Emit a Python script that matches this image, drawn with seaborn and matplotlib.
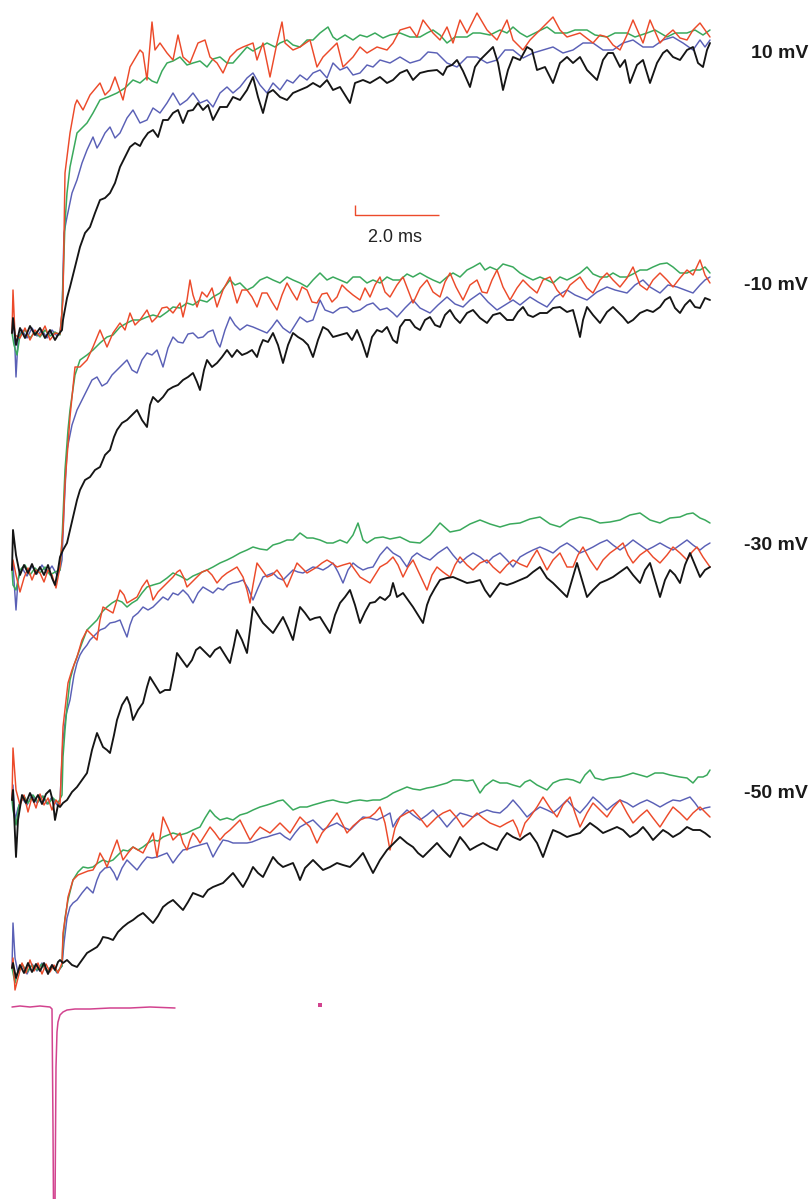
import matplotlib
matplotlib.use("Agg")
import matplotlib.pyplot as plt
import pandas as pd
import seaborn as sns

# Sampling: 42 samples per ms. Each sweep is a list of (sample, current) pairs,
# current in arbitrary units relative to the pre-step holding level.
SAMPLES_PER_MS = 42.0

POTENTIALS = ["10 mV", "-10 mV", "-30 mV", "-50 mV"]

# ---------------- 10 mV ----------------
red_10 = [(12,0),(13,43),(15,-2),(20,-5),(25,5),(30,-7),(35,3),(40,-3),(45,7),(50,-7),(55,0),(60,-1),(63,33),(65,160),(70,200),(75,228),(77,233),(83,223),(90,238),(100,250),(105,238),(110,243),(115,256),(123,233),(130,266),(140,283),(143,280),(147,253),(152,311),(155,283),(160,290),(167,280),(173,273),(178,298),(183,276),(190,270),(198,290),(205,293),(210,276),(217,270),(223,260),(230,276),(237,283),(243,286),(253,290),(257,273),(263,290),(270,256),(277,290),(282,311),(285,290),(293,283),(300,286),(310,293),(317,266),(323,276),(330,283),(337,290),(343,266),(353,276),(360,286),(367,280),(377,286),(387,283),(393,290),(400,303),(410,306),(417,296),(423,313),(433,300),(440,293),(447,306),(453,290),(460,313),(467,300),(477,320),(487,303),(497,293),(507,313),(513,293),(523,283),(530,293),(537,300),(545,308),(553,316),(560,303),(567,296),(580,300),(593,290),(600,298),(607,296),(613,288),(620,283),(627,298),(633,313),(643,290),(650,313),(660,290),(667,298),(673,303),(680,295),(687,293),(693,303),(700,310),(705,303),(710,296)]
green_10 = [(12,0),(14,-12),(17,-22),(20,-2),(25,3),(30,-5),(35,1),(40,-4),(45,3),(50,-3),(55,1),(60,-2),(62,20),(65,110),(67,140),(70,166),(77,200),(82,205),(87,210),(93,220),(100,233),(108,236),(117,240),(125,245),(133,253),(140,250),(147,256),(152,252),(157,250),(162,262),(167,270),(173,272),(180,276),(187,268),(193,270),(200,272),(207,266),(213,274),(220,276),(227,270),(233,270),(240,278),(247,286),(253,282),(260,286),(267,290),(275,286),(280,290),(287,293),(293,288),(300,286),(307,293),(313,293),(320,300),(328,306),(333,296),(337,293),(345,298),(353,293),(360,298),(367,296),(375,300),(383,295),(390,298),(400,300),(410,296),(420,296),(427,300),(433,303),(440,298),(447,290),(455,296),(467,296),(473,300),(480,300),(490,298),(500,303),(507,300),(513,306),(520,300),(527,296),(535,300),(547,306),(555,300),(567,300),(575,303),(587,303),(595,298),(607,296),(615,300),(627,300),(635,296),(647,300),(655,303),(667,296),(675,300),(687,300),(695,303),(703,298),(710,303)]
blue_10 = [(12,0),(14,11),(16,-44),(18,-7),(22,3),(27,-5),(32,5),(37,-3),(42,3),(47,-5),(52,3),(57,-3),(60,0),(62,20),(64,100),(67,116),(72,140),(77,153),(82,170),(87,183),(93,196),(97,185),(100,190),(105,200),(110,206),(115,195),(120,200),(127,215),(133,223),(140,210),(147,213),(153,225),(160,220),(167,230),(173,240),(180,228),(187,233),(193,240),(200,230),(207,233),(213,226),(220,240),(227,246),(233,240),(240,246),(247,255),(253,260),(260,248),(267,240),(273,250),(280,243),(287,253),(293,250),(300,258),(307,253),(313,260),(320,263),(327,255),(333,270),(340,263),(347,266),(353,258),(360,260),(367,268),(373,266),(380,273),(390,270),(400,276),(410,270),(420,273),(428,281),(437,280),(447,270),(457,266),(467,276),(477,276),(487,270),(497,273),(505,283),(513,283),(523,275),(533,280),(543,283),(553,286),(563,280),(573,283),(583,290),(593,290),(603,283),(613,283),(623,290),(633,293),(643,286),(653,286),(663,293),(673,296),(683,290),(693,283),(700,293),(705,286),(710,293)]
black_10 = [(12,0),(13,15),(16,-12),(20,5),(25,-5),(30,7),(35,-2),(40,5),(45,-5),(50,3),(55,-7),(58,-2),(62,3),(63,13),(67,35),(70,46),(75,66),(80,86),(85,100),(90,106),(95,120),(100,133),(105,135),(110,140),(115,150),(120,166),(125,176),(130,186),(135,190),(140,187),(143,193),(148,200),(153,203),(158,196),(163,213),(168,213),(173,220),(178,223),(183,210),(188,222),(193,223),(198,230),(203,223),(208,228),(213,213),(220,226),(227,226),(233,236),(240,233),(247,243),(253,256),(258,236),(263,220),(268,240),(273,243),(280,236),(287,233),(293,240),(300,243),(307,246),(313,250),(320,246),(327,253),(333,243),(340,246),(345,238),(350,230),(355,250),(363,253),(370,250),(380,256),(387,250),(393,253),(400,260),(407,263),(413,253),(420,260),(428,262),(437,263),(443,258),(447,266),(452,268),(457,273),(463,262),(470,246),(475,266),(480,273),(487,280),(493,286),(498,270),(503,243),(508,263),(513,276),(520,273),(527,286),(532,283),(537,263),(545,266),(553,250),(560,270),(567,276),(573,270),(580,276),(587,263),(597,253),(603,273),(608,280),(613,280),(620,266),(625,273),(630,250),(637,268),(643,273),(650,250),(657,270),(663,280),(667,283),(673,276),(680,273),(687,283),(693,286),(698,270),(703,266),(707,283),(710,290)]

# ---------------- -10 mV ----------------
red_m10 = [(12,0),(13,10),(16,-5),(20,-22),(24,-8),(28,2),(32,-10),(36,0),(40,-3),(44,-12),(48,0),(52,-5),(56,-18),(60,3),(63,40),(65,87),(68,125),(70,153),(75,203),(80,203),(87,210),(93,223),(100,240),(107,223),(113,237),(120,247),(125,240),(130,257),(135,245),(140,250),(147,260),(152,248),(157,253),(162,262),(167,263),(173,257),(180,267),(183,253),(187,270),(190,290),(193,275),(197,263),(202,278),(207,273),(212,282),(217,263),(223,280),(230,293),(237,267),(242,280),(247,280),(252,273),(257,263),(262,277),(267,277),(272,268),(277,260),(282,275),(287,287),(292,278),(297,270),(302,283),(307,280),(312,268),(317,267),(322,276),(327,277),(332,268),(337,273),(342,285),(347,280),(353,275),(360,270),(365,282),(370,273),(375,285),(380,293),(385,278),(390,273),(397,285),(403,293),(408,280),(413,267),(420,282),(427,290),(433,278),(440,273),(445,288),(450,297),(456,283),(463,270),(470,285),(477,290),(482,278),(487,277),(492,290),(497,300),(503,283),(510,270),(517,282),(523,290),(530,283),(537,277),(543,290),(550,293),(557,280),(563,273),(570,285),(580,293),(587,282),(593,277),(600,290),(607,297),(613,290),(620,283),(627,292),(633,303),(640,285),(647,280),(653,290),(660,297),(667,290),(673,283),(680,292),(687,300),(693,295),(700,310),(705,295),(710,287)]
green_m10 = [(12,0),(13,-15),(16,-20),(20,0),(25,5),(30,-5),(35,2),(40,-3),(45,3),(50,-5),(55,-2),(60,0),(62,30),(65,100),(68,140),(70,160),(75,195),(80,210),(87,215),(93,220),(100,227),(107,233),(113,235),(120,243),(127,247),(133,250),(140,250),(147,253),(153,255),(160,253),(167,258),(173,263),(180,262),(187,267),(193,265),(200,270),(207,268),(213,273),(220,277),(230,290),(235,285),(240,287),(247,280),(253,283),(260,290),(267,293),(273,290),(280,287),(287,293),(293,290),(300,287),(307,283),(313,290),(320,297),(327,290),(333,293),(340,290),(347,287),(353,293),(360,293),(367,287),(373,290),(380,287),(387,293),(393,290),(400,290),(407,296),(413,293),(420,297),(427,293),(433,290),(440,287),(447,293),(453,297),(460,293),(467,300),(473,303),(480,307),(485,300),(490,303),(497,300),(503,306),(513,303),(520,297),(527,293),(533,290),(540,293),(547,290),(553,287),(560,293),(567,290),(573,293),(580,297),(587,303),(593,296),(600,293),(607,293),(613,297),(620,293),(627,293),(633,296),(640,300),(647,300),(653,303),(660,306),(667,307),(673,303),(680,297),(687,297),(693,300),(700,300),(705,303),(710,297)]
blue_m10 = [(12,0),(13,5),(16,-40),(18,-10),(22,2),(27,-6),(32,4),(37,-4),(42,5),(47,-3),(52,4),(57,-5),(60,0),(62,10),(64,60),(67,120),(72,145),(77,160),(82,170),(87,180),(92,190),(97,193),(102,184),(107,187),(112,195),(117,200),(122,205),(127,210),(132,200),(137,197),(142,210),(147,217),(152,215),(157,220),(163,203),(168,222),(173,233),(178,228),(183,227),(188,236),(193,237),(198,232),(203,233),(208,238),(213,240),(217,228),(220,223),(225,240),(230,253),(235,245),(240,240),(247,245),(253,243),(260,240),(267,237),(272,243),(277,250),(283,242),(290,237),(295,245),(300,253),(307,248),(313,250),(320,270),(325,260),(333,257),(340,262),(347,263),(353,258),(360,260),(367,265),(373,267),(380,260),(387,262),(393,257),(397,253),(405,262),(413,270),(420,262),(430,257),(438,265),(447,273),(455,266),(463,263),(470,270),(480,277),(488,268),(497,260),(505,265),(513,270),(520,265),(530,273),(538,268),(547,263),(555,273),(567,280),(575,275),(587,270),(597,278),(607,283),(615,280),(627,277),(635,285),(643,290),(650,283),(660,277),(668,285),(677,283),(685,280),(693,277),(700,285),(705,290),(710,293)]
black_m10 = [(12,0),(13,40),(16,15),(20,-5),(24,5),(28,-3),(32,6),(36,-4),(40,3),(44,-5),(48,5),(52,-8),(55,-15),(58,0),(60,13),(63,20),(67,27),(70,40),(73,53),(77,70),(80,80),(85,90),(90,93),(95,100),(100,103),(105,115),(110,120),(114,133),(117,140),(122,147),(127,150),(132,155),(137,160),(142,150),(147,143),(150,165),(153,173),(158,168),(163,173),(168,180),(173,183),(178,185),(183,190),(188,193),(193,197),(197,188),(200,180),(204,200),(207,210),(212,203),(217,207),(222,213),(227,220),(232,213),(237,220),(242,215),(247,217),(252,220),(257,213),(260,223),(263,230),(268,228),(273,237),(278,225),(283,207),(288,225),(293,237),(298,233),(303,230),(308,225),(313,213),(318,230),(323,243),(328,240),(333,233),(340,235),(347,237),(352,230),(357,240),(362,228),(367,213),(372,233),(377,240),(382,238),(387,243),(393,230),(397,227),(400,243),(405,250),(410,250),(415,243),(420,240),(425,250),(430,253),(435,245),(440,243),(445,255),(450,260),(455,252),(460,247),(467,257),(473,260),(480,252),(487,247),(493,255),(500,257),(507,250),(513,250),(518,258),(523,263),(528,255),(533,253),(540,257),(547,257),(553,262),(560,263),(567,258),(573,260),(577,245),(580,233),(583,250),(587,263),(593,255),(600,247),(607,258),(613,263),(618,258),(623,253),(628,247),(633,250),(640,257),(647,260),(653,258),(660,263),(665,270),(670,273),(675,262),(680,257),(685,265),(690,270),(695,263),(700,262),(705,272),(710,270)]

# ---------------- -30 mV ----------------
red_m30 = [(12,0),(13,52),(16,10),(20,-5),(24,5),(28,-12),(32,3),(36,-8),(40,6),(44,-5),(48,2),(52,-10),(56,0),(60,-5),(63,73),(66,100),(68,117),(72,130),(77,143),(82,160),(87,170),(92,165),(97,160),(100,180),(103,193),(108,190),(113,187),(117,200),(120,210),(124,205),(127,197),(132,200),(137,203),(142,213),(147,220),(150,212),(153,200),(158,208),(163,213),(168,218),(173,223),(177,228),(180,230),(184,222),(187,213),(192,218),(197,223),(202,228),(207,230),(212,225),(217,217),(222,223),(227,227),(232,230),(237,233),(240,228),(243,223),(247,210),(250,197),(253,215),(257,237),(262,230),(267,223),(272,225),(277,230),(282,223),(287,213),(292,225),(297,237),(302,232),(307,227),(312,230),(317,233),(322,237),(327,240),(332,237),(337,233),(343,235),(350,237),(355,230),(360,223),(365,220),(370,217),(375,225),(380,233),(387,237),(393,243),(398,235),(403,223),(408,233),(413,240),(420,225),(427,210),(432,225),(437,233),(443,228),(450,223),(455,235),(460,243),(467,235),(473,230),(480,237),(487,240),(493,233),(500,227),(507,235),(513,240),(520,236),(527,233),(532,242),(537,250),(542,240),(547,230),(553,240),(560,247),(567,233),(573,233),(578,245),(583,253),(590,240),(597,230),(603,240),(610,247),(617,252),(623,257),(628,245),(633,237),(640,245),(647,250),(653,243),(660,237),(667,245),(673,253),(680,247),(687,240),(692,248),(697,253),(703,243),(710,233)]
green_m30 = [(12,0),(13,-10),(16,-25),(19,-5),(24,4),(28,-3),(33,5),(38,-2),(43,4),(48,-4),(53,2),(58,-3),(62,5),(63,43),(65,70),(67,93),(70,120),(74,135),(77,143),(82,157),(87,170),(92,175),(97,180),(102,188),(107,193),(112,197),(117,200),(122,198),(127,193),(132,197),(137,200),(142,207),(147,213),(153,215),(160,217),(167,222),(173,227),(180,224),(187,220),(193,224),(200,227),(207,230),(213,233),(220,237),(227,240),(233,243),(240,247),(247,250),(253,253),(260,251),(267,250),(273,255),(280,257),(287,260),(293,260),(300,267),(307,262),(313,262),(320,260),(327,257),(333,257),(340,260),(347,257),(353,265),(358,277),(363,260),(367,257),(375,262),(383,263),(390,261),(400,263),(410,258),(420,257),(430,265),(440,277),(450,268),(460,270),(470,276),(480,280),(490,276),(500,273),(510,276),(520,277),(530,281),(540,283),(550,276),(560,273),(570,280),(580,283),(590,281),(600,277),(610,278),(620,280),(630,285),(640,287),(650,280),(660,277),(670,282),(680,283),(687,286),(693,287),(700,282),(705,280),(710,277)]
blue_m30 = [(12,0),(13,15),(15,-20),(18,-8),(22,2),(27,-5),(32,5),(37,-3),(42,4),(47,-4),(52,3),(57,-5),(60,0),(63,60),(66,85),(70,100),(74,125),(77,137),(80,145),(83,150),(87,155),(90,160),(95,165),(100,170),(105,172),(110,177),(115,178),(120,180),(124,170),(127,163),(130,175),(133,183),(138,187),(143,193),(148,190),(153,193),(158,198),(163,203),(168,200),(173,207),(178,205),(183,210),(188,205),(193,197),(198,207),(203,213),(208,210),(213,207),(218,212),(223,210),(228,215),(233,217),(238,218),(243,220),(248,212),(253,200),(258,212),(263,223),(268,225),(273,227),(278,222),(283,220),(288,225),(293,230),(298,228),(303,227),(308,230),(313,233),(318,232),(323,230),(328,233),(333,237),(338,228),(343,217),(348,230),(353,237),(358,233),(363,230),(368,232),(373,233),(380,245),(387,253),(393,247),(400,243),(407,233),(412,243),(417,247),(423,243),(430,240),(438,247),(447,253),(453,245),(460,237),(467,243),(473,247),(480,243),(487,237),(493,243),(500,247),(507,240),(513,233),(520,243),(527,247),(533,250),(540,253),(547,250),(553,247),(560,253),(567,257),(573,253),(580,247),(587,250),(593,253),(600,257),(607,260),(613,255),(620,250),(627,255),(633,260),(640,255),(647,250),(653,253),(660,257),(667,253),(673,250),(680,255),(687,260),(693,255),(700,250),(705,254),(710,257)]
black_m30 = [(12,0),(13,10),(16,-57),(18,-20),(22,5),(26,-3),(30,7),(34,-2),(38,5),(42,-4),(46,6),(50,10),(53,-2),(55,-20),(58,-5),(60,-7),(63,-3),(67,0),(72,8),(77,13),(82,20),(87,27),(92,50),(97,67),(100,60),(103,53),(107,50),(110,47),(114,65),(117,80),(122,95),(127,103),(130,95),(133,80),(138,90),(143,97),(147,113),(150,123),(155,115),(160,107),(165,110),(170,110),(174,130),(177,147),(182,140),(187,133),(192,140),(196,150),(200,153),(205,148),(210,143),(215,150),(220,153),(225,145),(230,137),(234,155),(237,170),(242,160),(247,147),(250,170),(253,193),(258,185),(263,177),(268,172),(273,167),(278,175),(283,183),(288,172),(293,160),(297,180),(300,193),(305,187),(310,180),(315,182),(320,183),(325,175),(330,167),(335,185),(340,197),(345,203),(350,210),(355,195),(360,177),(365,188),(370,197),(375,198),(380,203),(385,200),(390,205),(393,217),(397,203),(403,207),(408,200),(413,193),(418,185),(423,177),(427,195),(430,203),(435,212),(440,220),(447,222),(453,223),(460,220),(467,217),(473,218),(480,220),(485,210),(490,203),(495,210),(500,217),(507,215),(513,217),(520,220),(527,223),(533,228),(540,233),(547,222),(553,217),(560,210),(567,203),(572,220),(577,237),(582,220),(587,203),(593,210),(600,217),(607,220),(613,223),(620,228),(627,233),(633,225),(640,217),(645,230),(650,237),(655,220),(660,203),(665,220),(670,230),(675,225),(680,217),(685,235),(690,247),(695,235),(700,223),(705,230),(710,233)]

# ---------------- -50 mV ----------------
red_m50 = [(12,0),(13,10),(15,-22),(18,-10),(22,5),(26,-5),(30,8),(34,-3),(38,5),(42,-6),(46,4),(50,-4),(54,3),(58,-5),(62,5),(63,35),(66,55),(68,71),(73,88),(78,93),(83,95),(88,97),(93,98),(97,105),(100,115),(104,108),(107,101),(112,115),(117,128),(120,118),(123,108),(128,115),(133,121),(138,118),(143,115),(148,125),(153,135),(157,111),(160,130),(163,151),(168,140),(173,128),(177,132),(180,135),(183,125),(187,118),(190,128),(193,135),(197,130),(200,125),(205,133),(210,141),(215,135),(220,128),(225,134),(230,138),(235,143),(240,148),(245,138),(250,128),(255,135),(260,141),(265,138),(270,135),(275,140),(280,145),(285,140),(290,135),(295,143),(300,151),(305,146),(310,141),(317,125),(322,135),(327,141),(332,148),(337,155),(342,145),(347,135),(353,142),(360,148),(365,150),(370,151),(375,155),(380,161),(385,145),(390,118),(395,140),(400,151),(407,155),(413,158),(420,150),(427,141),(432,146),(437,151),(443,155),(450,158),(457,150),(463,141),(470,148),(477,155),(483,150),(490,145),(495,143),(500,141),(507,145),(513,148),(517,140),(520,131),(525,145),(530,151),(537,161),(543,171),(550,160),(557,151),(563,163),(570,171),(575,155),(580,141),(587,155),(593,165),(600,158),(607,151),(613,160),(620,168),(627,155),(633,145),(640,152),(647,158),(653,150),(660,141),(667,152),(673,161),(680,155),(687,148),(693,155),(700,161),(705,156),(710,151)]
green_m50 = [(12,0),(13,-5),(15,-15),(18,-3),(22,4),(27,-4),(32,3),(37,-2),(42,4),(47,-3),(52,2),(57,-4),(62,2),(63,28),(65,50),(68,68),(73,88),(78,96),(83,101),(88,100),(93,101),(98,105),(103,108),(108,106),(113,108),(118,113),(123,118),(128,117),(133,121),(138,118),(143,121),(148,125),(153,128),(158,127),(163,131),(168,133),(173,135),(180,133),(187,135),(193,138),(200,141),(205,150),(210,158),(215,152),(220,148),(227,150),(233,148),(240,153),(247,155),(253,158),(260,161),(267,163),(273,165),(278,167),(283,168),(288,163),(293,158),(300,161),(307,161),(313,163),(320,165),(327,167),(333,168),(340,166),(347,165),(353,167),(360,168),(367,167),(373,168),(380,168),(387,171),(393,175),(400,178),(407,181),(413,179),(420,178),(427,180),(433,181),(440,183),(447,185),(453,188),(460,188),(467,187),(473,188),(480,175),(485,182),(493,188),(500,185),(507,185),(513,183),(520,181),(525,186),(530,188),(537,183),(547,178),(553,185),(560,188),(567,189),(573,188),(580,185),(585,193),(590,198),(595,190),(603,188),(610,190),(620,191),(627,193),(633,195),(640,193),(647,191),(655,195),(663,195),(670,193),(680,191),(687,190),(693,185),(698,191),(703,191),(707,193),(710,198)]
blue_m50 = [(12,0),(13,45),(15,10),(18,-5),(22,3),(27,-6),(32,4),(37,-3),(42,5),(47,-4),(52,3),(57,-5),(62,2),(64,25),(67,50),(70,61),(73,65),(77,68),(82,75),(87,81),(90,78),(93,75),(97,88),(100,95),(105,100),(110,101),(114,95),(117,88),(122,100),(127,108),(132,103),(137,98),(142,105),(147,111),(152,110),(157,111),(162,113),(167,115),(170,110),(173,105),(178,112),(183,118),(188,119),(193,121),(200,123),(207,125),(210,118),(213,111),(218,120),(223,128),(228,127),(233,125),(240,125),(247,125),(252,126),(257,128),(262,130),(267,131),(273,133),(280,135),(285,131),(290,128),(295,135),(300,141),(307,145),(313,148),(318,143),(323,138),(330,142),(337,145),(343,141),(350,138),(357,145),(363,151),(370,150),(377,148),(383,151),(390,155),(393,141),(397,148),(407,158),(413,153),(420,148),(427,153),(433,158),(440,150),(447,141),(453,148),(460,155),(467,153),(473,151),(480,155),(487,158),(493,156),(500,155),(507,161),(513,168),(520,160),(527,151),(533,156),(540,161),(547,158),(553,155),(560,161),(567,168),(573,161),(580,155),(587,163),(593,171),(600,165),(607,158),(613,163),(620,168),(627,165),(633,161),(640,165),(647,168),(653,165),(660,161),(667,165),(673,168),(680,167),(690,171),(695,165),(700,158),(705,160),(710,161)]
black_m50 = [(12,0),(13,5),(16,-10),(20,3),(24,-5),(28,5),(32,-4),(36,4),(40,-3),(44,5),(48,-6),(52,3),(55,-2),(58,6),(60,8),(63,5),(67,8),(72,3),(77,1),(82,8),(87,15),(92,18),(97,21),(100,25),(103,31),(108,30),(113,28),(118,36),(123,41),(128,45),(133,48),(138,52),(143,55),(148,50),(153,45),(158,52),(163,61),(168,65),(173,68),(178,63),(183,58),(188,66),(193,75),(198,73),(203,71),(208,78),(213,81),(218,83),(223,85),(228,90),(233,95),(238,88),(243,81),(248,90),(253,101),(258,95),(263,91),(268,101),(273,111),(278,105),(283,101),(288,103),(293,105),(297,96),(300,88),(305,100),(313,108),(318,103),(323,98),(330,101),(337,105),(343,103),(350,101),(357,108),(363,115),(368,105),(373,95),(380,108),(387,118),(393,124),(400,131),(407,125),(413,121),(418,115),(423,111),(430,118),(437,125),(443,118),(450,111),(455,121),(460,131),(465,125),(470,118),(477,122),(483,125),(490,121),(497,118),(502,128),(507,135),(513,131),(520,128),(525,132),(530,135),(537,125),(543,111),(548,125),(553,138),(560,135),(567,131),(573,133),(580,135),(585,140),(590,145),(597,140),(603,135),(610,138),(617,141),(623,138),(630,131),(637,135),(643,141),(648,135),(653,128),(658,133),(663,138),(668,135),(673,131),(680,135),(687,141),(693,138),(700,138),(705,135),(710,131)]

# Command / stimulus monitor trace
stimulus = [(12,0),(20,1),(30,0),(40,1),(50,0),(52,-2),(53,-120),(54,-280),(55,-200),(56,-60),(57,-25),(58,-15),(60,-8),(63,-5),(67,-3),(75,-2),(90,-2),(110,-1),(130,-1),(150,0),(175,-1)]
stim_marker = [(320,2)]

SCALE_BAR_MS = 2.0

# ---------------- drawing ----------------
COLORS = {"black": "#151515", "blue": "#5a60b6", "green": "#3aa95c", "red": "#ec4a2a"}
LINE_W = {"black": 1.35, "blue": 1.05, "green": 1.1, "red": 1.05}
DRAW_ORDER = ["blue", "green", "red", "black"]

sweeps = {
    "10 mV": {"red": red_10, "green": green_10, "blue": blue_10, "black": black_10},
    "-10 mV": {"red": red_m10, "green": green_m10, "blue": blue_m10, "black": black_m10},
    "-30 mV": {"red": red_m30, "green": green_m30, "blue": blue_m30, "black": black_m30},
    "-50 mV": {"red": red_m50, "green": green_m50, "blue": blue_m50, "black": black_m50},
}

# vertical stacking offsets for each potential and label placement
offsets = {"10 mV": -333, "-10 mV": -570, "-30 mV": -800, "-50 mV": -968}
label_y = {"10 mV": -54, "-10 mV": -285, "-30 mV": -545, "-50 mV": -794}
STIM_OFFSET = -1007

W_PX, H_PX = 812, 1199
sns.set_style("white")
plt.rcParams["font.family"] = ["Liberation Sans", "DejaVu Sans"]

fig = plt.figure(figsize=(W_PX / 100, H_PX / 100), dpi=100)
ax = fig.add_axes([0, 0, 1, 1])
ax.set_xlim(0, W_PX / SAMPLES_PER_MS)
ax.set_ylim(-H_PX, 0)
ax.axis("off")


def to_frame(pairs, offset):
    df = pd.DataFrame(pairs, columns=["sample", "current"])
    df["t_ms"] = df["sample"] / SAMPLES_PER_MS
    df["y"] = df["current"] + offset
    return df


for pot in POTENTIALS:
    for cond in DRAW_ORDER:
        df = to_frame(sweeps[pot][cond], offsets[pot])
        sns.lineplot(data=df, x="t_ms", y="y", ax=ax, color=COLORS[cond],
                     linewidth=LINE_W[cond], sort=False, estimator=None,
                     legend=False)
    ax.text(808 / SAMPLES_PER_MS, label_y[pot], pot, ha="right", va="center",
            fontsize=14, fontweight="bold", color="#1a1a1a")

stim_df = to_frame(stimulus, STIM_OFFSET)
sns.lineplot(data=stim_df, x="t_ms", y="y", ax=ax, color="#d2438f",
             linewidth=1.1, sort=False, estimator=None, legend=False)
mark_df = to_frame(stim_marker, STIM_OFFSET)
sns.scatterplot(data=mark_df, x="t_ms", y="y", ax=ax, color="#d2438f",
                marker="s", s=5, linewidth=0, legend=False)

ax.set_xlim(0, W_PX / SAMPLES_PER_MS)
ax.set_ylim(-H_PX, 0)
ax.set_xlabel("")
ax.set_ylabel("")

# time scale bar
bar_x0 = 355 / SAMPLES_PER_MS
bar_y = -215
ax.plot([bar_x0, bar_x0, bar_x0 + SCALE_BAR_MS], [bar_y + 10, bar_y, bar_y],
        color="#ec4a2a", linewidth=1.0, solid_capstyle="butt")
ax.text(bar_x0 + SCALE_BAR_MS / 2 - 0.05, -237, f"{SCALE_BAR_MS:.1f} ms",
        ha="center", va="center", fontsize=13, color="#222222")

fig.savefig("out.png", dpi=100)
